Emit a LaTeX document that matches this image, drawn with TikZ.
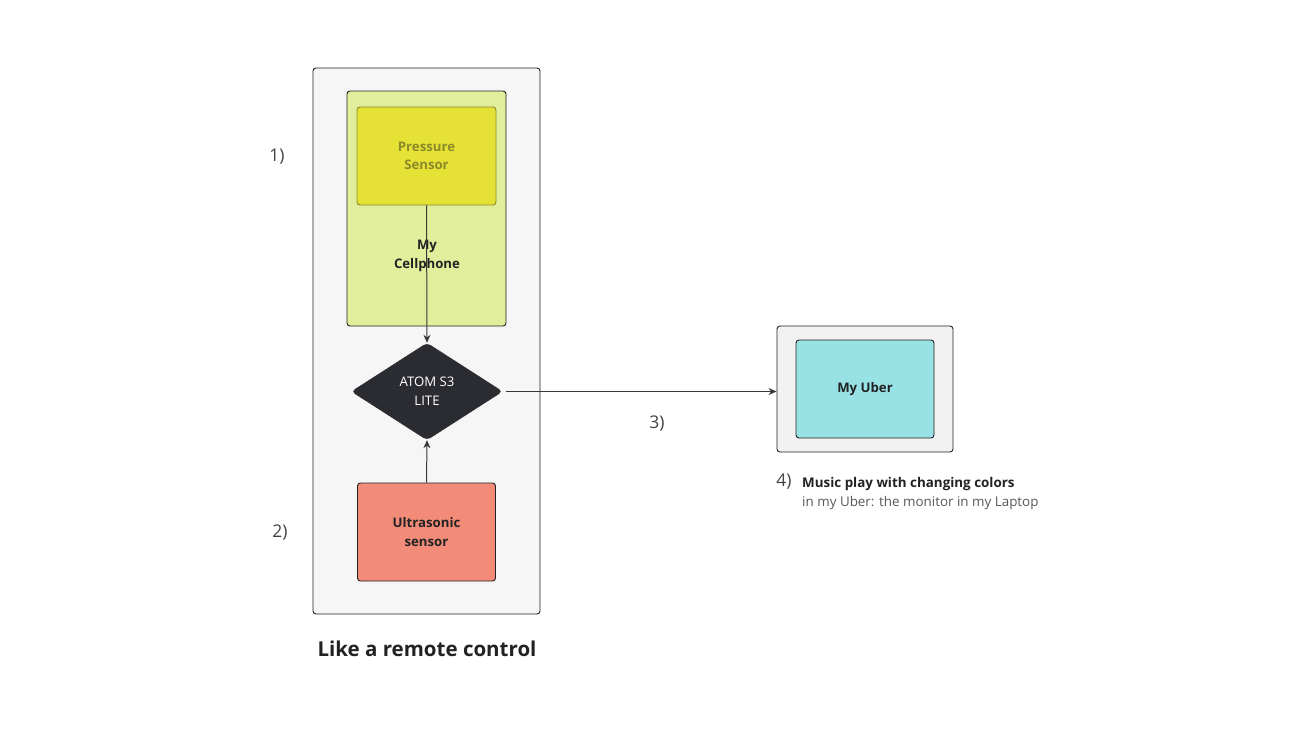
\documentclass[tikz,border=0pt]{standalone}
\usepackage{fontspec}
\setmainfont{Open Sans}
\usetikzlibrary{shapes.geometric,arrows.meta}

\definecolor{frame}{HTML}{F6F6F6}
\definecolor{uberframe}{HTML}{F2F2F2}
\definecolor{phone}{HTML}{E1EF9D}
\definecolor{sensor}{HTML}{E6E135}
\definecolor{sensortext}{HTML}{8A8A2A}
\definecolor{ultra}{HTML}{F28C79}
\definecolor{uber}{HTML}{98E2E6}
\definecolor{atom}{HTML}{2B2C31}
\definecolor{ink}{HTML}{222222}

\tikzset{
  box/.style={draw=ink, line width=0.9pt, rounded corners=3pt, inner sep=0pt},
  lbl/.style={align=center, font=\fontsize{13.2}{18.5}\selectfont\bfseries, text=ink},
  num/.style={font=\fontsize{17.5}{20}\selectfont, text=ink!85},
  link/.style={draw=ink!90, line width=1pt, -{Stealth[length=8pt,width=7pt]}}
}

\begin{document}
\begin{tikzpicture}[x=1pt, y=-1pt]
      \useasboundingbox [fill=white] (0,0) rectangle (1297,753);

      % remote control side
      \node [box, fill=frame, minimum width=227pt, minimum height=546pt] (remote) at (426.5,341) {};
      \node [box, fill=phone, minimum width=159pt, minimum height=235pt] (phone) at (426.5,208.5) {};
      \node [lbl] (phonetxt) at (427,256) {My\\Cellphone};
      \node [box, draw=sensortext, fill=sensor, minimum width=139pt, minimum height=98pt,
             lbl, text=sensortext] (pressure) at (426.5,156) {Pressure\\Sensor};
      \node [draw=atom, fill=atom, diamond, aspect=1.56, inner sep=0pt, rounded corners=4pt,
             minimum width=151pt, minimum height=97pt, lbl, text=white, font=\fontsize{13.2}{19}\selectfont]
             (atom) at (427,391.5) {ATOM S3\\LITE};
      \node [box, fill=ultra, minimum width=138pt, minimum height=98pt, lbl] (ultra) at (426.5,532) {Ultrasonic\\sensor};

      \node [lbl, font=\fontsize{20.5}{24}\selectfont\bfseries] (title) at (427,649) {Like a remote control};
      \node [num] (n1) at (277,157) {1)};
      \node [num] (n2) at (280,533) {2)};

      % laptop side
      \node [box, fill=uberframe, minimum width=176pt, minimum height=126pt] (laptop) at (865,389) {};
      \node [box, fill=uber, minimum width=138pt, minimum height=98pt, lbl] (myuber) at (865,389) {My Uber};
      \node [num] (n3) at (657,424) {3)};
      \node [num] (n4) at (784,482) {4)};
      \node [anchor=west, font=\fontsize{13.4}{18}\selectfont\bfseries, text=ink, inner sep=0pt] (music) at (802,484) {Music play with changing colors};
      \node [anchor=west, font=\fontsize{13.4}{18}\selectfont, text=ink!75, inner sep=0pt] (monitor) at (802,503) {in my Uber: the monitor in my Laptop};

      \draw [link] (pressure.south) -- (atom.north);
      \draw [link] (ultra.north) -- (atom.south);
      \draw [link] ([xshift=3pt]atom.east) -- (atom.east -| laptop.west);

    \end{tikzpicture}
\end{document}
